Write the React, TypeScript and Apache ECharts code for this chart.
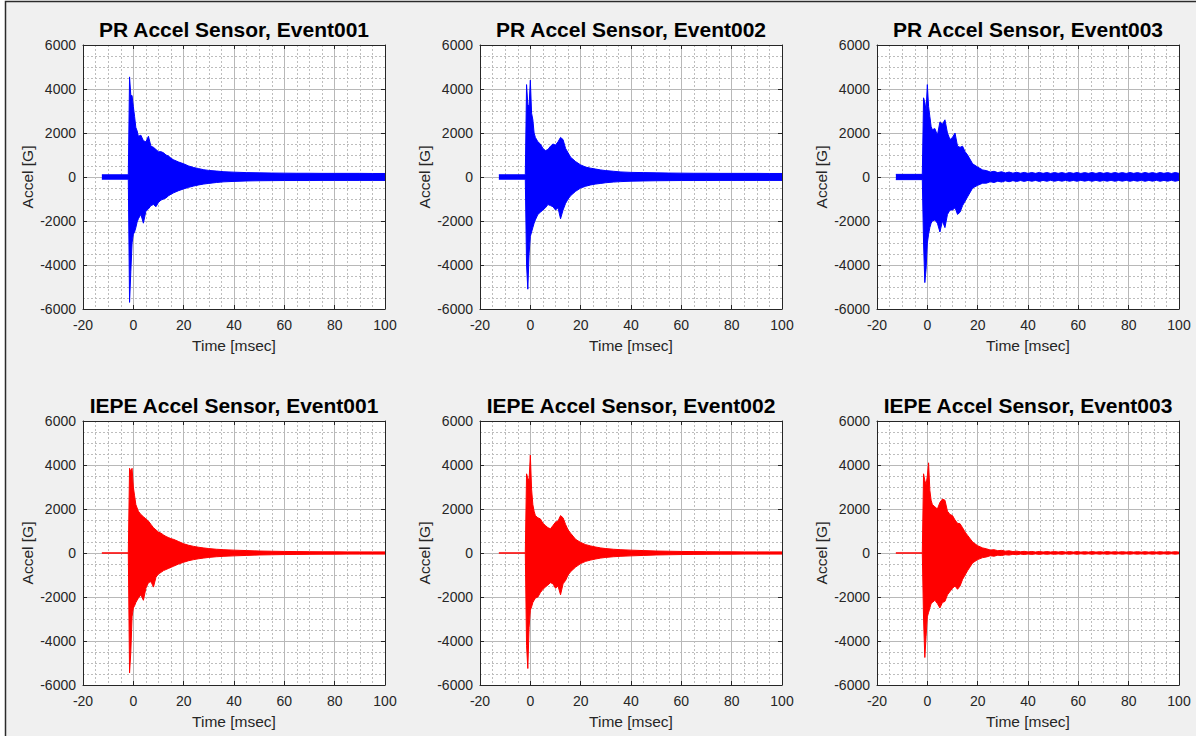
import { useEffect, useRef } from "react";
import * as echarts from "echarts";

// Sample times (ms) of the burst part of each record (per-bin envelope)
const BURST_TIME_MS = [
  -12.5, -2, -1.5, -1, -0.5, 0, 0.5, 1, 1.5, 2,
  3, 4, 5, 6, 7, 8, 9, 10, 11, 12, 13, 14, 15, 16, 18, 20, 22,
];
// Sample times (ms) of a smoothly decaying tail
const SMOOTH_TAIL_TIME_MS = [24, 26, 28, 30, 33, 36, 40, 45, 50, 55, 60, 65, 70, 75, 80, 85, 90, 95, 100];
// Sample times (ms) of a tail that keeps ringing (~3 ms beat)
const BEADED_TAIL_TIME_MS = [
  23.5, 25, 26.5, 28, 29.5, 31, 32.5, 34, 35.5, 37, 38.5, 40, 41.5, 43, 44.5, 46, 47.5, 49,
  50.5, 52, 53.5, 55, 56.5, 58, 59.5, 61, 62.5, 64, 65.5, 67, 68.5, 70, 71.5, 73, 74.5, 76,
  77.5, 79, 80.5, 82, 83.5, 85, 86.5, 88, 89.5, 91, 92.5, 94, 95.5, 97, 98.5, 100,
];

// Upper / lower envelope of acceleration [G]
const PR_EVENT001_HI = [
  100, 100, 4550, 3700, 3700, 3200, 2750, 2250, 2100, 1850,
  1900, 1650, 1600, 1850, 1400, 1350, 1250, 1150, 1150, 1100, 1000, 950, 850, 780, 680, 600, 500,
];
const PR_EVENT001_LO = [
  -100, -100, -5700, -4300, -3000, -2600, -2500, -2300, -2050, -1900,
  -1700, -2100, -1550, -1450, -1300, -1250, -1350, -1150, -1050, -1000, -950, -850, -780, -720, -620, -540, -470,
];
const PR_EVENT001_TAIL_HI = [430, 380, 330, 300, 270, 240, 220, 200, 190, 180, 175, 170, 170, 165, 165, 165, 165, 160, 160];
const PR_EVENT001_TAIL_LO = [-410, -360, -320, -290, -250, -220, -200, -180, -170, -165, -160, -160, -160, -155, -155, -155, -155, -155, -155];

const PR_EVENT002_HI = [
  100, 100, 4200, 3300, 3200, 4400, 2900, 2600, 2000, 1800,
  1600, 1500, 1300, 1200, 1250, 1400, 1500, 1450, 1600, 1800, 1700, 1300, 1100, 900, 700, 550, 450,
];
const PR_EVENT002_LO = [
  -100, -100, -4000, -5100, -3500, -2700, -2500, -2300, -2100, -1950,
  -1700, -1600, -1500, -1400, -1250, -1300, -1350, -1500, -1400, -1900, -1500, -1200, -1000, -850, -650, -500, -420,
];
const PR_EVENT002_TAIL_HI = [400, 360, 320, 290, 260, 230, 210, 200, 190, 180, 175, 170, 170, 165, 165, 165, 165, 160, 160];
const PR_EVENT002_TAIL_LO = [-360, -320, -290, -260, -230, -210, -190, -180, -170, -165, -160, -160, -160, -155, -155, -155, -155, -155, -155];

const PR_EVENT003_HI = [
  120, 120, 3600, 3400, 3000, 4200, 3200, 2750, 2300, 2150,
  2200, 1900, 2500, 2400, 2600, 2000, 1700, 1800, 2000, 1400, 1350, 1400, 1150, 1000, 600, 450, 320,
];
const PR_EVENT003_LO = [
  -120, -120, -3000, -4800, -4200, -3000, -2600, -2300, -2100, -2000,
  -1950, -2100, -2500, -2000, -2300, -1700, -1500, -1500, -1400, -1700, -1600, -1300, -1100, -900, -500, -380, -280,
];
const PR_EVENT003_TAIL_HI = [
  290, 225, 260, 200, 240, 185, 225, 175, 215, 170, 210, 165, 205, 165, 210, 165, 205, 160,
  205, 165, 200, 160, 205, 165, 205, 160, 200, 165, 205, 160, 205, 165, 200, 160, 205, 165,
  200, 160, 205, 165, 200, 160, 205, 165, 200, 160, 205, 165, 200, 160, 205, 165,
];
const PR_EVENT003_TAIL_LO = [
  -280, -215, -250, -190, -230, -175, -215, -165, -205, -160, -200, -155, -195, -155, -200, -155, -195, -150,
  -195, -155, -190, -150, -195, -155, -195, -150, -190, -155, -195, -150, -195, -155, -190, -150, -195, -155,
  -190, -150, -195, -155, -190, -150, -195, -155, -190, -150, -195, -155, -190, -150, -195, -155,
];

const IEPE_EVENT001_HI = [
  5, 5, 3850, 3700, 3850, 3000, 2600, 2200, 2050, 1900,
  1750, 1650, 1550, 1450, 1300, 1150, 1050, 950, 900, 820, 750, 700, 650, 620, 520, 420, 350,
];
const IEPE_EVENT001_LO = [
  -5, -5, -5450, -4500, -2900, -2500, -2400, -2250, -2150, -2050,
  -1900, -2150, -1600, -1350, -1300, -1550, -1100, -950, -880, -800, -750, -700, -650, -600, -500, -420, -350,
];
const IEPE_EVENT001_TAIL_HI = [300, 260, 230, 200, 170, 150, 130, 110, 90, 80, 70, 65, 60, 55, 55, 50, 50, 50, 50];
const IEPE_EVENT001_TAIL_LO = [-300, -260, -230, -200, -170, -150, -130, -110, -90, -80, -70, -65, -60, -55, -55, -50, -50, -50, -50];

const IEPE_EVENT002_HI = [
  5, 5, 3600, 3400, 3300, 4450, 2900, 2200, 1900, 1700,
  1600, 1550, 1350, 1250, 1150, 1100, 1250, 1400, 1450, 1700, 1600, 1300, 1050, 900, 620, 480, 380,
];
const IEPE_EVENT002_LO = [
  -5, -5, -4200, -5250, -3400, -2600, -2450, -2250, -2150, -2050,
  -2000, -1800, -1650, -1550, -1450, -1350, -1400, -1600, -1500, -1900, -1400, -1250, -1000, -850, -640, -480, -380,
];
const IEPE_EVENT002_TAIL_HI = [320, 270, 230, 200, 170, 150, 130, 110, 90, 80, 70, 65, 60, 55, 55, 50, 50, 50, 50];
const IEPE_EVENT002_TAIL_LO = [-320, -270, -230, -200, -170, -150, -130, -110, -90, -80, -70, -65, -60, -55, -55, -50, -50, -50, -50];

const IEPE_EVENT003_HI = [
  5, 5, 3600, 3300, 3100, 3500, 4100, 2850, 2400, 2200,
  2100, 2000, 2300, 2450, 2400, 1900, 1750, 1700, 1500, 1350, 1330, 1150, 950, 800, 500, 330, 230,
];
const IEPE_EVENT003_LO = [
  -5, -5, -3000, -4750, -3800, -2900, -2700, -2500, -2300, -2250,
  -2150, -2300, -2500, -2250, -2200, -1900, -1750, -1600, -1500, -1650, -1500, -1200, -1000, -800, -450, -300, -210,
];
const IEPE_EVENT003_TAIL_HI = [
  190, 135, 150, 105, 120, 85, 100, 65, 85, 55, 75, 50, 70, 45, 70, 45, 65, 45,
  65, 45, 65, 40, 65, 40, 65, 40, 60, 40, 65, 40, 60, 40, 65, 40, 60, 40,
  60, 40, 60, 40, 60, 40, 60, 40, 60, 40, 60, 40, 60, 40, 60, 40,
];
const IEPE_EVENT003_TAIL_LO = [
  -180, -125, -145, -100, -115, -80, -95, -60, -80, -50, -70, -45, -65, -40, -65, -40, -60, -40,
  -60, -40, -60, -35, -60, -35, -60, -35, -55, -35, -60, -35, -55, -35, -60, -35, -55, -35,
  -55, -35, -55, -35, -55, -35, -55, -35, -55, -35, -55, -35, -55, -35, -55, -35,
];

const TITLES = [
  "PR Accel Sensor, Event001",
  "PR Accel Sensor, Event002",
  "PR Accel Sensor, Event003",
  "IEPE Accel Sensor, Event001",
  "IEPE Accel Sensor, Event002",
  "IEPE Accel Sensor, Event003",
];
const X_LABEL = "Time [msec]";
const Y_LABEL = "Accel [G]";

const BLUE = "#0000ff";
const RED = "#ff0000";

const PANELS = [
  { hi: PR_EVENT001_HI, lo: PR_EVENT001_LO, tailT: SMOOTH_TAIL_TIME_MS, tailHi: PR_EVENT001_TAIL_HI, tailLo: PR_EVENT001_TAIL_LO, color: BLUE },
  { hi: PR_EVENT002_HI, lo: PR_EVENT002_LO, tailT: SMOOTH_TAIL_TIME_MS, tailHi: PR_EVENT002_TAIL_HI, tailLo: PR_EVENT002_TAIL_LO, color: BLUE },
  { hi: PR_EVENT003_HI, lo: PR_EVENT003_LO, tailT: BEADED_TAIL_TIME_MS, tailHi: PR_EVENT003_TAIL_HI, tailLo: PR_EVENT003_TAIL_LO, color: BLUE },
  { hi: IEPE_EVENT001_HI, lo: IEPE_EVENT001_LO, tailT: SMOOTH_TAIL_TIME_MS, tailHi: IEPE_EVENT001_TAIL_HI, tailLo: IEPE_EVENT001_TAIL_LO, color: RED },
  { hi: IEPE_EVENT002_HI, lo: IEPE_EVENT002_LO, tailT: SMOOTH_TAIL_TIME_MS, tailHi: IEPE_EVENT002_TAIL_HI, tailLo: IEPE_EVENT002_TAIL_LO, color: RED },
  { hi: IEPE_EVENT003_HI, lo: IEPE_EVENT003_LO, tailT: BEADED_TAIL_TIME_MS, tailHi: IEPE_EVENT003_TAIL_HI, tailLo: IEPE_EVENT003_TAIL_LO, color: RED },
];

const FONT = "'Liberation Sans', Arial, Helvetica, sans-serif";
const INK = "#262626";
const COL_LEFTS = [83, 480, 877];
const ROW_TOPS = [45, 421];
const PLOT_W = 302;
const PLOT_H = 264;

function buildOption() {
  const grid: any[] = [];
  const xAxis: any[] = [];
  const yAxis: any[] = [];
  const series: any[] = [];
  const graphic: any[] = [
    {
      type: "rect",
      shape: { x: 5.5, y: 1.5, width: 1220, height: 760 },
      style: { fill: "#f0f0f0", stroke: "#2b2b2b", lineWidth: 1.5 },
      z: -100,
      silent: true,
    },
  ];

  PANELS.forEach((p, i) => {
    const left = COL_LEFTS[i % 3];
    const top = ROW_TOPS[Math.floor(i / 3)];
    grid.push({ left, top, width: PLOT_W, height: PLOT_H, show: true, backgroundColor: "#ffffff", borderWidth: 0 });

    const tick = { show: true, inside: true, length: 4, lineStyle: { color: INK, width: 1 } };
    const line = { show: true, onZero: false, lineStyle: { color: INK, width: 1 } };
    const label = { color: INK, fontSize: 14, fontFamily: FONT, formatter: (v: number) => String(v) };
    const major = { show: true, lineStyle: { color: "#b8b8b8", width: 1 } };
    const minor = { show: true, lineStyle: { color: "#bdbdbd", width: 1, type: [2, 2] } };

    xAxis.push({
      type: "value", gridIndex: i, position: "bottom", min: -20, max: 100, interval: 20,
      axisLine: line, axisTick: tick, axisLabel: { ...label, margin: 9 },
      splitLine: major, minorTick: { show: false, splitNumber: 4 }, minorSplitLine: minor,
    });
    xAxis.push({
      type: "value", gridIndex: i, position: "top", min: -20, max: 100, interval: 20,
      axisLine: line, axisTick: tick, axisLabel: { show: false }, splitLine: { show: false },
    });
    yAxis.push({
      type: "value", gridIndex: i, position: "left", min: -6000, max: 6000, interval: 2000,
      axisLine: line, axisTick: tick, axisLabel: { ...label, margin: 7 },
      splitLine: major, minorTick: { show: false, splitNumber: 4 }, minorSplitLine: minor,
    });
    yAxis.push({
      type: "value", gridIndex: i, position: "right", min: -6000, max: 6000, interval: 2000,
      axisLine: line, axisTick: tick, axisLabel: { show: false }, splitLine: { show: false },
    });

    const times = [...BURST_TIME_MS, ...p.tailT];
    const envelope = (vals: number[]) => ({
      type: "line",
      xAxisIndex: 2 * i,
      yAxisIndex: 2 * i,
      data: times.map((t, k) => [t, vals[k]]),
      showSymbol: false,
      symbol: "none",
      silent: true,
      lineStyle: { color: p.color, width: 1 },
      areaStyle: { color: p.color, opacity: 1, origin: "auto" },
      z: 3,
    });
    series.push(envelope([...p.hi, ...p.tailHi]), envelope([...p.lo, ...p.tailLo]));

    const cx = left + PLOT_W / 2;
    graphic.push({
      type: "text",
      x: cx,
      y: top - 16,
      style: { text: TITLES[i], fill: "#000000", font: `bold 21px ${FONT}`, textAlign: "center", textVerticalAlign: "middle" },
    });
    graphic.push({
      type: "text",
      x: cx,
      y: top + PLOT_H + 36,
      style: { text: X_LABEL, fill: INK, font: `15.5px ${FONT}`, textAlign: "center", textVerticalAlign: "middle" },
    });
    graphic.push({
      type: "text",
      x: left - 55.5,
      y: top + PLOT_H / 2,
      rotation: Math.PI / 2,
      style: { text: Y_LABEL, fill: INK, font: `15.5px ${FONT}`, textAlign: "center", textVerticalAlign: "middle" },
    });
  });

  return {
    animation: false,
    backgroundColor: "#ffffff",
    textStyle: { fontFamily: FONT },
    grid,
    xAxis,
    yAxis,
    series,
    graphic,
  };
}

export default function App() {
  const ref = useRef<HTMLDivElement>(null);
  useEffect(() => {
    if (!ref.current) return;
    const chart = echarts.init(ref.current, undefined, { renderer: "svg" });
    chart.setOption(buildOption());
    return () => chart.dispose();
  }, []);
  return (
    <div
      ref={ref}
      style={{ position: "fixed", left: 0, top: 0, width: 1196, height: 736 }}
    />
  );
}
